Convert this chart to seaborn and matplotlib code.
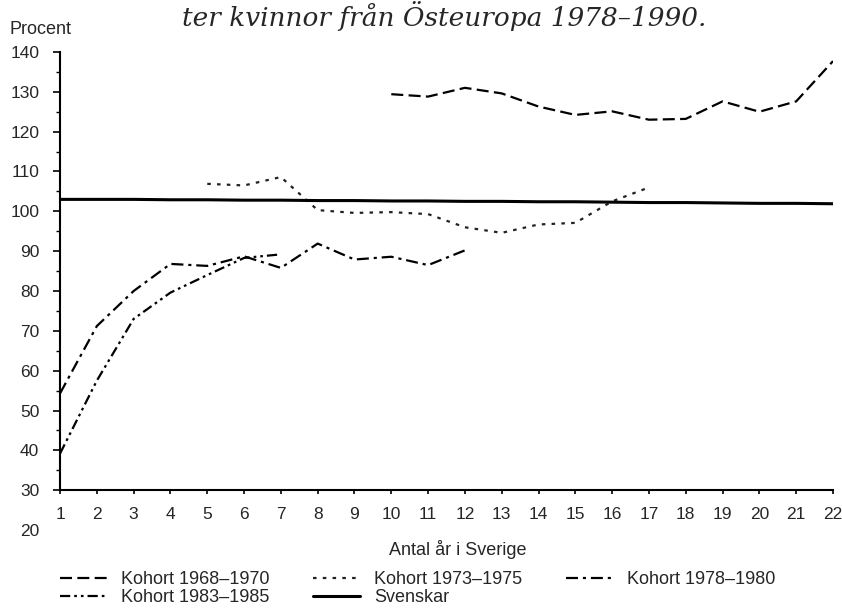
import matplotlib
matplotlib.use("Agg")
import matplotlib.pyplot as plt
from matplotlib.ticker import MultipleLocator
import seaborn as sns

# values
years_all = list(range(1, 23))
svenskar = [103.0, 103.0, 103.0, 102.9, 102.9, 102.8, 102.8, 102.7, 102.7, 102.6, 102.6,
            102.5, 102.5, 102.4, 102.4, 102.3, 102.2, 102.2, 102.1, 102.0, 102.0, 101.9]

years_1968 = list(range(10, 23))
kohort_1968 = [129.4, 128.8, 131.0, 129.6, 126.3, 124.2, 125.1, 123.0, 123.2, 127.6, 125.0, 127.6, 137.7]

years_1973 = list(range(5, 18))
kohort_1973 = [106.9, 106.5, 108.6, 100.3, 99.6, 99.8, 99.3, 96.0, 94.6, 96.7, 97.1, 102.5, 106.0]

years_1978 = list(range(1, 13))
kohort_1978 = [54.3, 71.2, 80.0, 86.8, 86.3, 88.7, 85.8, 91.9, 87.9, 88.6, 86.5, 90.2]

years_1983 = list(range(1, 8))
kohort_1983 = [39.2, 57.5, 73.0, 79.6, 84.0, 88.3, 89.2]

y_ticks = list(range(20, 141, 10))

sns.set_theme(style="white")
plt.rcParams['font.family'] = ['Liberation Sans', 'DejaVu Sans']

fig = plt.figure(figsize=(8.42, 6.10), dpi=100)
ax = fig.add_axes([0.0713, 0.1311, 0.918, 0.7837])

lw = 1.6
sns.lineplot(x=years_1968, y=kohort_1968, ax=ax, color='black', lw=lw,
             linestyle=(0, (5.4, 2.4)), label='Kohort 1968–1970')
sns.lineplot(x=years_1983, y=kohort_1983, ax=ax, color='black', lw=lw,
             linestyle=(0, (4.6, 1.8, 1.2, 1.8, 1.2, 1.8)), label='Kohort 1983–1985')
sns.lineplot(x=years_1973, y=kohort_1973, ax=ax, color='#222222', lw=lw,
             linestyle=(0, (1.6, 2.8)), label='Kohort 1973–1975')
sns.lineplot(x=years_all, y=svenskar, ax=ax, color='black', lw=2.2,
             linestyle='-', label='Svenskar')
sns.lineplot(x=years_1978, y=kohort_1978, ax=ax, color='black', lw=lw,
             linestyle=(0, (5.4, 2.2, 1.4, 2.2)), label='Kohort 1978–1980')

ax.set_xlim(1, 22)
ax.set_ylim(20, 140)
ax.set_xticks(years_all)
ax.set_yticks(y_ticks)
ax.yaxis.set_minor_locator(MultipleLocator(5))

for side in ['top', 'right']:
    ax.spines[side].set_visible(False)
ax.spines['left'].set_bounds(30, 140)
ax.spines['bottom'].set_position(('data', 30))
for side in ['left', 'bottom']:
    ax.spines[side].set_color('black')
    ax.spines[side].set_linewidth(1.5)

ax.tick_params(axis='y', which='major', direction='out', length=5, width=1.2,
               color='black', labelsize=12.5, pad=10, left=True)
ax.tick_params(axis='y', which='minor', direction='out', length=3, width=1.0,
               color='black', left=True)
ax.tick_params(axis='x', which='major', direction='out', length=3, width=1.2,
               color='black', labelsize=12.5, pad=9, bottom=True)
ax.yaxis.get_major_ticks()[0].tick1line.set_visible(False)
ax.yaxis.get_minor_ticks()[0].tick1line.set_visible(False)
ax.yaxis.get_minor_ticks()[1].tick1line.set_visible(False)

ax.set_xlabel('Antal år i Sverige', fontsize=13)
ax.xaxis.set_label_coords(0.514, -0.02)
ax.set_ylabel('')

fig.text(0.011, 0.951, 'Procent', fontsize=13, ha='left', va='center')
fig.text(0.528, 0.957, 'ter kvinnor från Östeuropa 1978–1990.', fontsize=19,
         family='DejaVu Serif', style='italic', ha='center', va='baseline')

ax.legend(ncol=3, loc='upper left', bbox_to_anchor=(0.071, 0.064),
          bbox_transform=fig.transFigure, frameon=False, fontsize=13,
          handlelength=2.6, handletextpad=0.8, columnspacing=2.4,
          labelspacing=0.05, borderpad=0, borderaxespad=0)

fig.savefig('out.png', dpi=100)
